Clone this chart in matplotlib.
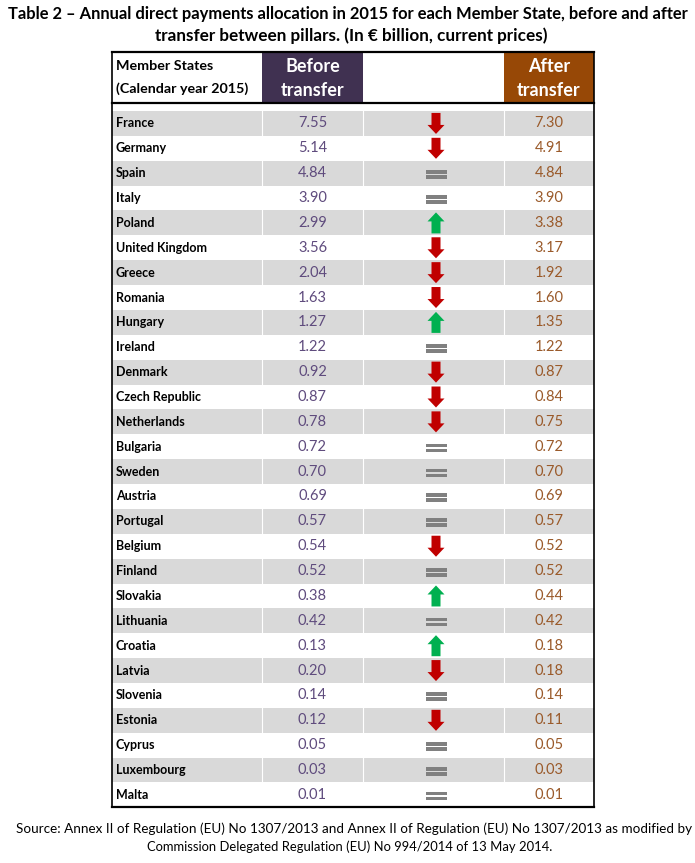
import matplotlib
matplotlib.use('Agg')
import matplotlib.pyplot as plt
from matplotlib.patches import Rectangle, Polygon
import numpy as np

plt.rcParams['font.family'] = ['Lato', 'DejaVu Sans']

# table data, EUR billion, current prices
countries = ['France', 'Germany', 'Spain', 'Italy', 'Poland', 'United Kingdom', 'Greece',
             'Romania', 'Hungary', 'Ireland', 'Denmark', 'Czech Republic', 'Netherlands',
             'Bulgaria', 'Sweden', 'Austria', 'Portugal', 'Belgium', 'Finland', 'Slovakia',
             'Lithuania', 'Croatia', 'Latvia', 'Slovenia', 'Estonia', 'Cyprus',
             'Luxembourg', 'Malta']
before = [7.55, 5.14, 4.84, 3.90, 2.99, 3.56, 2.04, 1.63, 1.27, 1.22, 0.92, 0.87, 0.78,
          0.72, 0.70, 0.69, 0.57, 0.54, 0.52, 0.38, 0.42, 0.13, 0.20, 0.14, 0.12, 0.05,
          0.03, 0.01]
after = [7.30, 4.91, 4.84, 3.90, 3.38, 3.17, 1.92, 1.60, 1.35, 1.22, 0.87, 0.84, 0.75,
         0.72, 0.70, 0.69, 0.57, 0.52, 0.52, 0.44, 0.42, 0.18, 0.18, 0.14, 0.11, 0.05,
         0.03, 0.01]

title = ('Table 2 \u2013 Annual direct payments allocation in 2015 for each Member State, before and after\n'
         'transfer between pillars. (In \u20ac billion, current prices)')
source = ('Source: Annex II of Regulation (EU) No 1307/2013 and Annex II of Regulation (EU) No 1307/2013 as modified by\n'
          'Commission Delegated Regulation (EU) No 994/2014 of 13 May 2014.')

PURPLE = '#403151'
BROWN = '#974806'
TXT_BEFORE = '#5f4b7d'
TXT_AFTER = '#9a5a2a'
GREY_ROW = '#d9d9d9'

fig = plt.figure(figsize=(6.95, 8.63), dpi=100)
ax = fig.add_axes([0, 0, 1, 1])
ax.set_xlim(0, 695)
ax.set_ylim(863, 0)
ax.axis('off')

# layout in pixels
x_left, x_b, x_arr, x_a, x_right = 112, 262, 363, 504, 594
top, head_bot, row0, row_h = 52, 103, 111, 24.87
n = len(countries)
bottom = row0 + n * row_h

t1, t2 = title.split('\n')
ax.text(348, 14, t1, ha='center', va='center', fontsize=11.9, fontweight='bold')
ax.text(351, 36, t2, ha='center', va='center', fontsize=12.3, fontweight='bold')

# header
ax.add_patch(Rectangle((x_b, top), x_arr - x_b, head_bot - top, color=PURPLE, lw=0))
ax.add_patch(Rectangle((x_a, top), x_right - x_a, head_bot - top, color=BROWN, lw=0))
ax.text(x_left + 4, 66, 'Member States', ha='left', va='center', fontsize=10.3, fontweight='bold')
ax.text(x_left + 4, 89, '(Calendar year 2015)', ha='left', va='center', fontsize=10.3, fontweight='bold')
for xc, lab in [((x_b + x_arr) / 2, 'Before'), ((x_a + x_right) / 2, 'After')]:
    ax.text(xc, 66, lab, ha='center', va='center', fontsize=13, fontweight='bold', color='white')
    ax.text(xc, 90, 'transfer', ha='center', va='center', fontsize=13, fontweight='bold', color='white')

# rows
for i, name in enumerate(countries):
    y0 = row0 + i * row_h
    yc = y0 + row_h / 2
    if i % 2 == 0:
        ax.add_patch(Rectangle((x_left, y0), x_right - x_left, row_h, color=GREY_ROW, lw=0))
    ax.text(x_left + 4, yc, name, ha='left', va='center', fontsize=9, fontweight='bold')
    ax.text((x_b + x_arr) / 2, yc, f'{before[i]:.2f}', ha='center', va='center', fontsize=10.5, color=TXT_BEFORE)
    ax.text((x_a + x_right) / 2, yc, f'{after[i]:.2f}', ha='center', va='center', fontsize=10.5, color=TXT_AFTER)

    xa = 436
    diff = round(after[i] - before[i], 2)
    if diff == 0:
        for dy in (-3, 2):
            ax.add_patch(Rectangle((xa - 10.5, yc + dy), 21, 3.5, color='#808080', lw=0))
    else:
        s = 1 if diff < 0 else -1  # down arrow when value drops
        tip = yc + s * 10.5
        base = yc - s * 10.5
        neck = tip - s * 9
        pts = [(xa - 4.5, base), (xa + 4.5, base), (xa + 4.5, neck), (xa + 8.5, neck),
               (xa, tip), (xa - 8.5, neck), (xa - 4.5, neck)]
        ax.add_patch(Polygon(pts, closed=True, color='#c00000' if s == 1 else '#00b050', lw=0))

# faint column separators
for xv in (x_b, x_arr, x_a):
    ax.plot([xv, xv], [row0, bottom], color='white', lw=0.8)

# borders
ax.plot([x_left, x_right], [top, top], color='black', lw=1.6)
ax.plot([x_left, x_right], [head_bot, head_bot], color='black', lw=1.6)
ax.plot([x_left, x_right], [bottom, bottom], color='black', lw=1.6)
ax.plot([x_left, x_left], [top, bottom], color='black', lw=1.2)
ax.plot([x_right, x_right], [top, bottom], color='black', lw=1.2)

s1, s2 = source.split('\n')
ax.text(354, 829, s1, ha='center', va='center', fontsize=9.7)
ax.text(350, 847, s2, ha='center', va='center', fontsize=9.4)

fig.savefig('out.png', dpi=100)
